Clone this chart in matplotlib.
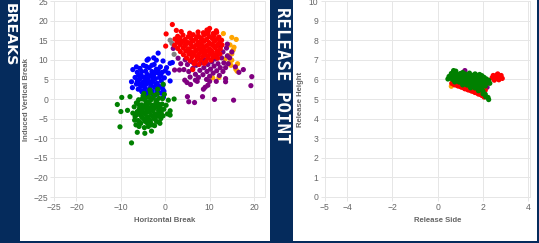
import matplotlib
matplotlib.use("Agg")
import matplotlib.pyplot as plt
from matplotlib.patches import Rectangle

# ---------------- data: pitch movement (Horizontal Break, Induced Vertical Break) ----------------
green_break = [(-7.6, -11.2), (-10.8, -1.4), (-10.2, -7.1), (-9.8, 0.4), (-10.0, -3.2), (-6.3, -8.5),
               (-4.6, -8.75), (-3.1, -8.2), (2.0, 0.0), (1.1, -4.1), (1.1, -3.0), (-1.4, -5.9),
               (-8.5, -2.9), (-7.95, 0.6), (0.7, -0.3), (-0.2, 1.2), (-3.45, 2.3), (-1.7, 2.5), (-0.45, 3.75),
               (-7.0, -2.0), (-6.8, -4.5), (-6.5, -1.0), (-6.3, -3.2), (-6.1, -5.5), (-6.0, -0.2),
               (-5.8, -2.4), (-5.6, -4.0), (-5.5, -6.2), (-5.3, -1.5), (-5.1, -3.3), (-5.0, 0.8),
               (-4.9, -5.0), (-4.7, -2.0), (-4.5, -3.9), (-4.4, -0.5), (-4.2, -6.0), (-4.1, -2.7),
               (-4.0, -4.6), (-3.9, -1.2), (-3.7, 0.5), (-3.6, -3.4), (-3.5, -5.4), (-3.4, -2.2),
               (-3.2, -0.2), (-3.1, -4.2), (-3.0, -6.6), (-2.9, -1.6), (-2.8, -3.0), (-2.6, -5.0),
               (-2.5, 0.9), (-2.4, -2.4), (-2.2, -3.8), (-2.1, -0.8), (-2.0, -5.7), (-1.8, -1.9),
               (-1.7, -4.4), (-1.5, -3.0), (-1.4, 0.2), (-1.2, -2.2), (-1.0, -5.0), (-0.9, -3.6),
               (-0.7, -1.3), (-0.5, -4.3), (-0.3, -2.6), (0.2, -1.6), (0.5, -3.8), (-6.6, -6.6),
               (-5.9, -7.0), (-4.7, -7.3), (-3.8, -7.0), (-2.4, -6.8), (-1.2, -6.2), (-7.3, -3.6),
               (-4.8, 1.4), (-3.3, 1.6), (-1.8, 1.3), (-3.9, -3.1), (-3.3, -2.6), (-4.4, -3.4),
               (-2.7, -4.3), (-4.2, -1.9), (-0.6, 0.1), (-6.9, -5.4), (-5.2, 0.0),
               (-6.4, -4.0), (-5.7, -3.1), (-5.0, -2.3), (-4.3, -1.2), (-3.6, -0.7), (-2.9, -2.3),
               (-2.2, -1.6), (-1.5, -1.3), (-5.3, -4.6), (-4.6, -5.6), (-3.8, -5.0), (-2.3, -4.8),
               (-1.4, -4.0), (-0.8, -2.8), (-6.0, -1.4), (-4.6, 0.3), (-2.8, 0.2), (-1.9, -0.3),
               (-3.3, -6.0), (-5.8, -5.8)]

blue_break = [(-1.6, 11.7), (-4.1, 9.9), (-2.0, 9.9), (-0.5, 9.7), (1.1, 9.1), (1.1, 4.6), (-7.3, 7.5),
              (-7.6, 4.4), (-7.4, 2.9), (-0.4, 0.5), (-6.5, 8.2), (-3.8, 10.2), (-2.6, 10.5), (0.3, 8.0),
              (0.7, 6.6), (-0.3, 2.0), (1.6, 9.3),
              (-6.8, 5.5), (-6.5, 3.8), (-6.3, 6.8), (-6.1, 2.5), (-5.9, 4.9), (-5.7, 7.8), (-5.5, 3.2),
              (-5.4, 6.0), (-5.2, 1.8), (-5.0, 4.3), (-4.9, 8.6), (-4.7, 5.5), (-4.6, 2.8), (-4.4, 7.1),
              (-4.2, 3.8), (-4.1, 6.3), (-3.9, 1.5), (-3.8, 4.8), (-3.6, 8.0), (-3.5, 2.7), (-3.3, 5.8),
              (-3.2, 3.6), (-3.0, 7.0), (-2.9, 4.4), (-2.8, 1.2), (-2.6, 6.2), (-2.5, 8.8), (-2.4, 3.0),
              (-2.2, 5.2), (-2.0, 7.6), (-1.9, 2.1), (-1.8, 4.0), (-1.6, 6.6), (-1.4, 3.2), (-1.3, 5.5),
              (-1.1, 8.2), (-1.0, 1.5), (-0.9, 4.6), (-0.7, 6.8), (-0.5, 3.6), (-0.2, 5.4), (0.0, 7.2),
              (-5.6, 5.3), (-4.5, 4.6), (-3.4, 4.2), (-2.7, 5.0), (-4.0, 5.2), (-3.1, 6.2), (-4.8, 3.5),
              (-2.1, 3.9), (-6.0, 6.0), (-3.7, 2.2), (-2.3, 1.0), (-4.3, 0.8), (-5.3, 2.0),
              (-5.3, 7.0), (-4.3, 8.3), (-3.0, 8.6), (-1.6, 7.5), (-5.8, 3.8), (-4.7, 2.0), (-3.0, 2.0),
              (-1.6, 1.8), (-0.6, 2.6), (-6.3, 4.5), (-2.2, 6.8), (-1.0, 6.0)]

red_break = [(1.6, 19.0), (0.2, 16.6), (2.5, 17.5), (3.6, 17.2), (0.1, 13.5), (6.2, 7.5), (10.0, 18.0),
             (9.4, 17.6), (11.5, 17.4),
             (5.5, 16.8), (7.4, 17.1), (8.6, 16.9), (9.7, 17.3), (10.8, 16.7), (11.6, 17.0),
             (2.8, 16.0), (4.0, 16.3), (5.2, 15.9), (6.3, 16.4), (7.5, 16.0), (8.7, 16.3), (9.9, 15.9),
             (11.0, 16.2), (12.1, 15.8),
             (2.2, 15.3), (3.3, 15.5), (4.5, 15.2), (5.7, 15.6), (6.9, 15.3), (8.1, 15.5), (9.3, 15.2),
             (10.5, 15.6), (11.7, 15.3), (12.7, 15.0),
             (2.7, 14.5), (3.9, 14.7), (5.1, 14.4), (6.3, 14.8), (7.5, 14.5), (8.7, 14.7), (9.9, 14.4),
             (11.1, 14.7), (12.3, 14.4),
             (2.1, 13.7), (3.3, 13.9), (4.5, 13.6), (5.7, 14.0), (6.9, 13.7), (8.1, 13.9), (9.3, 13.6),
             (10.5, 13.9), (11.7, 13.6), (12.8, 13.8),
             (2.8, 12.9), (4.0, 13.1), (5.2, 12.8), (6.4, 13.2), (7.6, 12.9), (8.8, 13.1), (10.0, 12.8),
             (11.2, 13.1), (12.4, 12.8),
             (3.4, 12.1), (4.6, 12.3), (5.8, 12.0), (7.0, 12.4), (8.2, 12.1), (9.4, 12.3), (10.6, 12.0),
             (11.8, 12.3),
             (4.1, 11.3), (5.3, 11.5), (6.5, 11.2), (7.7, 11.6), (8.9, 11.3), (10.1, 11.5), (11.3, 11.2),
             (12.3, 11.5),
             (4.8, 10.5), (6.0, 10.7), (7.2, 10.4), (8.4, 10.8), (9.6, 10.5), (10.8, 10.7), (11.8, 10.4),
             (5.6, 9.8), (6.8, 9.6), (8.0, 9.9), (9.2, 9.6), (10.3, 9.9),
             (6.5, 9.0), (7.6, 8.8), (8.8, 9.1),
             (6.0, 15.0), (7.2, 15.9), (8.4, 15.0), (9.6, 16.5), (10.9, 15.1), (4.6, 14.0), (6.0, 13.4),
             (7.3, 14.1), (8.5, 13.4), (9.8, 14.0), (11.0, 13.5), (5.4, 12.5), (6.7, 12.0), (8.0, 12.6),
             (9.1, 12.0), (10.3, 12.4), (11.6, 12.0), (6.0, 11.4), (7.3, 10.9), (8.6, 11.9), (9.7, 11.0),
             (11.0, 11.0), (3.5, 14.2), (3.0, 15.0), (12.0, 14.1)]

purple_break = [(19.5, 5.7), (19.3, 3.4), (15.4, -0.3), (11.1, -0.1), (5.0, 0.6), (5.3, -0.7), (6.6, -0.9),
                (8.4, 0.6), (17.6, 7.5), (16.6, 6.8), (13.6, 5.2), (13.6, 4.4), (4.4, 4.8), (4.9, 4.2),
                (5.7, 3.7), (9.0, 3.0), (8.6, 2.5), (9.6, 3.5), (10.0, 4.5), (7.5, 5.5), (6.8, 4.8),
                (2.1, 7.4), (3.2, 7.4), (1.8, 12.9), (2.9, 10.4), (15.0, 12.0), (14.5, 10.5), (15.8, 8.2),
                (12.5, 13.5), (13.8, 13.0), (14.0, 14.0),
                (4.2, 7.5), (5.0, 8.8), (5.3, 7.0), (6.0, 9.5), (6.2, 7.8), (6.8, 6.3), (7.0, 8.6),
                (7.4, 10.2), (7.8, 7.3), (8.0, 9.2), (8.5, 6.2), (8.7, 8.0), (9.0, 10.0), (9.4, 7.0),
                (9.6, 8.8), (10.0, 5.8), (10.2, 7.6), (10.5, 9.5), (10.8, 6.6), (11.0, 8.4), (11.3, 10.2),
                (11.6, 7.2), (11.9, 9.0), (12.2, 6.0), (12.4, 8.0), (12.7, 10.5), (13.0, 7.0), (13.2, 9.2),
                (13.6, 8.0), (14.0, 11.0), (14.2, 9.0), (12.0, 11.5), (13.0, 12.0), (3.5, 9.0), (4.5, 10.0),
                (5.6, 5.6), (7.2, 4.5), (9.3, 5.0), (11.5, 4.5)]

orange_break = [(13.1, 16.7), (15.0, 15.7), (16.0, 15.2), (15.3, 12.5), (15.0, 11.5), (14.2, 11.0),
                (15.0, 9.9), (14.5, 9.3), (16.3, 9.0), (15.9, 7.6), (16.2, 7.1), (10.7, 5.4), (12.1, 5.5),
                (14.8, 8.6), (13.5, 10.2), (14.6, 13.8), (15.5, 13.2)]

gray_break = [(1.1, 15.0), (2.0, 11.4), (1.5, 14.2)]

# ---------------- data: release point (Release Side, Release Height) ----------------
green_release = [(0.70, 6.45), (0.80, 6.42),
                 (0.60, 6.30), (0.80, 6.32), (1.00, 6.30), (1.20, 6.28), (1.65, 6.28), (1.85, 6.25),
                 (0.50, 6.15), (0.70, 6.16), (0.90, 6.14), (1.10, 6.16), (1.30, 6.14), (1.50, 6.15),
                 (1.70, 6.14), (1.90, 6.13), (2.05, 6.10),
                 (0.45, 6.02), (0.65, 6.00), (0.85, 6.01), (1.05, 6.00), (1.25, 6.01), (1.45, 6.00),
                 (1.65, 6.00), (1.85, 5.99), (2.05, 5.98), (2.25, 5.95),
                 (0.75, 5.87), (0.95, 5.86), (1.15, 5.85), (1.35, 5.84), (1.55, 5.85), (1.75, 5.84),
                 (1.95, 5.83), (2.15, 5.82), (2.30, 5.80),
                 (1.10, 5.72), (1.30, 5.71), (1.50, 5.70), (1.70, 5.70), (1.90, 5.69), (2.10, 5.66),
                 (1.45, 5.57), (1.65, 5.56), (1.85, 5.55),
                 (1.80, 5.42), (2.00, 5.40), (2.00, 5.26), (2.10, 5.24), (2.12, 5.11), (2.22, 5.08),
                 (2.25, 4.97),
                 (0.75, 6.23), (0.95, 6.22), (1.15, 6.22), (1.35, 6.22), (1.55, 6.21), (1.75, 6.20),
                 (1.95, 6.19), (0.55, 6.08), (0.75, 6.08), (0.95, 6.07), (1.15, 6.08), (1.35, 6.07),
                 (1.55, 6.07), (1.75, 6.06), (1.95, 6.05), (2.15, 6.02), (0.85, 5.93), (1.05, 5.93),
                 (1.25, 5.92), (1.45, 5.92), (1.65, 5.92), (1.85, 5.91), (2.05, 5.90), (1.20, 5.78),
                 (1.40, 5.77), (1.60, 5.77), (1.80, 5.76), (2.00, 5.75), (1.55, 5.63), (1.75, 5.63),
                 (1.95, 5.60), (1.90, 5.48), (1.40, 6.32), (1.10, 6.35)]

red_release = [(0.62, 5.80), (0.75, 5.72), (0.90, 5.66), (1.05, 5.60), (1.20, 5.52), (1.35, 5.46),
               (1.50, 5.40), (1.65, 5.33), (1.80, 5.25), (1.95, 5.18), (2.05, 5.10), (2.00, 5.35),
               (2.10, 5.45), (2.05, 5.60), (2.10, 5.75), (2.05, 5.85),
               (2.45, 6.20), (2.60, 6.22), (2.75, 6.15), (2.85, 6.05), (2.70, 5.98), (2.55, 6.05),
               (2.40, 6.08), (2.50, 5.96),
               (0.70, 5.76), (0.85, 5.70), (1.00, 5.64), (1.15, 5.57), (1.30, 5.50), (1.45, 5.44),
               (1.60, 5.37), (1.75, 5.30), (1.90, 5.23), (2.60, 6.10), (2.80, 6.20), (2.65, 6.28)]

purple_release = [(0.55, 6.12), (1.20, 6.45), (2.05, 5.55), (2.18, 5.60)]
orange_release = [(0.60, 5.65)]

# draw order and colours
series = [("gray", "#808080", gray_break, []),
          ("orange", "#ffa500", orange_break, orange_release),
          ("purple", "#800080", purple_break, purple_release),
          ("red", "#ff0000", red_break, red_release),
          ("blue", "#0000ff", blue_break, []),
          ("green", "#008000", green_break, green_release)]

break_xticks = [-25, -20, -10, 0, 10, 20]
break_yticks = [-25, -20, -15, -10, -5, 0, 5, 10, 15, 20, 25]
release_xticks = [-5, -4, -2, 0, 2, 4]
release_yticks = [0, 1, 2, 3, 4, 5, 6, 7, 8, 9, 10]

# ---------------- figure ----------------
W, H = 539, 243
NAVY = "#052b5c"
GRID = "#e6e6e6"
TICKC = "#666666"
fig = plt.figure(figsize=(W / 100, H / 100), dpi=100, facecolor=NAVY)

def px_rect(x0, y0, x1, y1):
    return [x0 / W, 1 - y1 / H, (x1 - x0) / W, (y1 - y0) / H]

for (x0, x1) in [(19.5, 270), (293, 537)]:
    r = px_rect(x0, 0, x1, 241)
    fig.patches.append(Rectangle((r[0], r[1]), r[2], r[3], transform=fig.transFigure,
                                 facecolor="white", edgecolor="none", zorder=-10))

ax1 = fig.add_axes(px_rect(54.3, 1, 265, 197))
ax2 = fig.add_axes(px_rect(324.5, 1, 530, 197))

for name, col, brk, rel in series:
    if brk:
        xs, ys = zip(*brk)
        ax1.scatter(xs, ys, s=14, color=col, edgecolors="none", zorder=3)
    if rel:
        xs, ys = zip(*rel)
        ax2.scatter(xs, ys, s=14, color=col, edgecolors="none", zorder=3)

lab_font = dict(family="Liberation Sans", size=5.6, weight="bold", color=TICKC)

def style(ax, xt, yt, xlim, ylim, xlabel, ylabel, xl_pos):
    ax.set_xlim(*xlim)
    ax.set_ylim(*ylim)
    ax.set_xticks(xt)
    ax.set_yticks(yt)
    ax.grid(True, color=GRID, linewidth=0.7, zorder=0)
    ax.set_axisbelow(True)
    for sp in ax.spines.values():
        sp.set_color(GRID)
        sp.set_linewidth(0.7)
    ax.tick_params(length=3, width=0.7, color=GRID, pad=1.5, labelsize=6.2, labelcolor=TICKC)
    for lb in ax.get_xticklabels() + ax.get_yticklabels():
        lb.set_family("Liberation Sans")
    ax.set_xlabel(xlabel, **lab_font)
    ax.set_ylabel(ylabel, **lab_font)
    ax.xaxis.set_label_coords(xl_pos[0], xl_pos[1])
    ax.xaxis.label.set_va("center")
    ax.yaxis.set_label_coords(xl_pos[2], 0.5)
    ax.yaxis.label.set_va("center")

style(ax1, break_xticks, break_yticks, (-25, 22.48), (-25, 25),
      "Horizontal Break", "Induced Vertical Break", (0.525, -0.1224, -0.1296))
style(ax2, release_xticks, release_yticks, (-5, 4.075), (0, 10),
      "Release Side", "Release Height", (0.552, -0.1224, -0.1192))

fig.text(9.5 / W, 1 - 35 / H, "BREAKS", rotation=270, ha="center", va="center",
         color="white", family="DejaVu Sans", weight="bold", size=10.3)
fig.text(281.5 / W, 1 - 75 / H, "RELEASE POINT", rotation=270, ha="center", va="center",
         color="white", family="DejaVu Sans Mono", weight="bold", size=12.5)

fig.savefig("out.png", dpi=100, facecolor=NAVY)
